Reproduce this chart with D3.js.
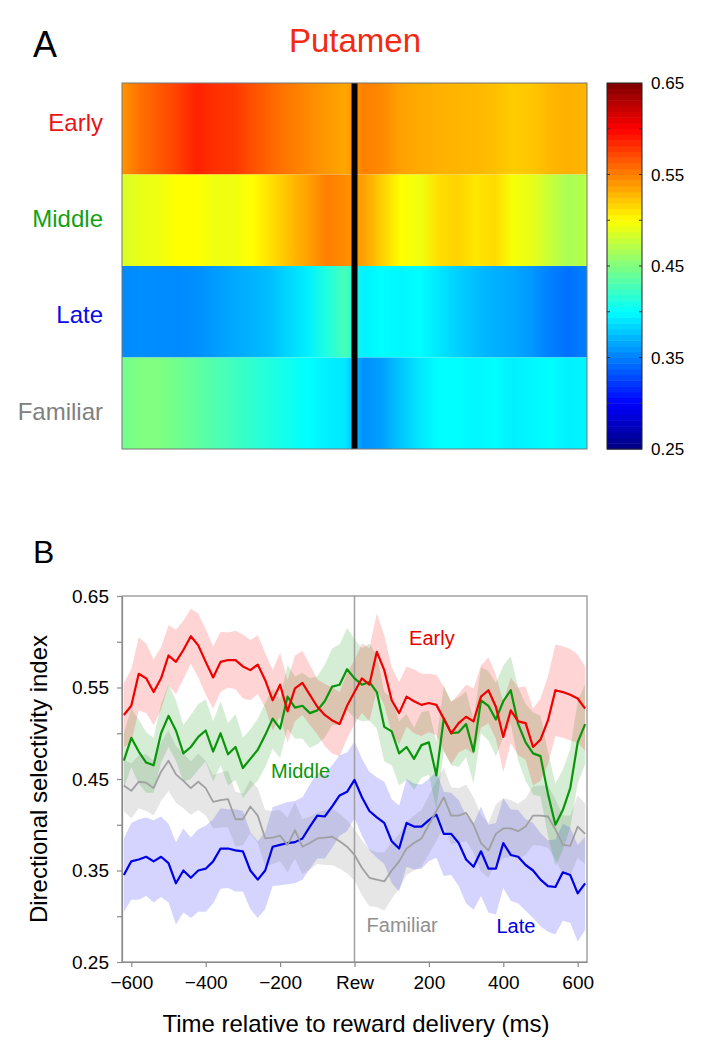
<!DOCTYPE html>
<html>
<head>
<meta charset="utf-8">
<script src="https://cdn.jsdelivr.net/npm/d3@7"></script>
<style>
  body { margin: 0; background: #fff; }
  text { font-family: "Liberation Sans", Arial, sans-serif; }
</style>
</head>
<body>
<svg id="fig" width="703" height="1056"></svg>
<script>
// ---------- data ----------
var rowNames = ["Early", "Middle", "Late", "Familiar"];
var rowColors = ["#e8141a", "#13a013", "#0a0ae6", "#808080"];

// heatmap samples (ms), both sides of reward
var heatTimes = [-625,-575,-525,-475,-425,-375,-325,-275,-225,-175,-125,-75,-25,
                 25,75,125,175,225,275,325,375,425,475,525,575,625];
var heatEarly = [.542,.556,.565,.575,.587,.581,.579,.569,.56,.552,.546,.54,.535,
                 .55,.546,.537,.533,.531,.529,.528,.525,.52,.522,.528,.531,.529];
var heatMiddle = [.485,.491,.494,.50,.50,.494,.494,.50,.512,.525,.537,.55,.546,
                  .537,.518,.50,.494,.512,.518,.509,.515,.497,.491,.478,.466,.472];
var heatLate = [.354,.356,.355,.354,.356,.361,.366,.37,.375,.385,.394,.412,.428,
                .395,.40,.397,.40,.391,.382,.375,.369,.366,.36,.35,.344,.35];
var heatFamiliar = [.444,.45,.45,.444,.438,.431,.425,.419,.412,.406,.40,.394,.391,
                    .356,.363,.378,.391,.40,.40,.397,.40,.394,.397,.40,.394,.397];

var cbLabels = [0.25, 0.35, 0.45, 0.55, 0.65];

// panel B time base (ms)
var times = [-620,-600,-580,-560,-540,-520,-500,-480,-460,-440,-420,-400,-380,-360,-340,-320,
  -300,-280,-260,-240,-220,-200,-180,-160,-140,-120,-100,-80,-60,-40,-20,0,20,40,60,80,100,
  120,140,160,180,200,220,240,260,280,300,320,340,360,380,400,420,440,460,480,500,520,540,
  560,580,600,620];

var early = [.52,.53,.565,.56,.545,.56,.585,.578,.591,.606,
  .596,.578,.561,.578,.58,.58,.573,.569,.575,.558,
  .536,.553,.524,.549,.555,.542,.529,.52,.514,.51,
  .53,.545,.56,.553,.589,.569,.536,.522,.54,.535,
  .531,.533,.531,.516,.50,.511,.518,.513,.54,.547,
  .529,.496,.525,.513,.511,.485,.493,.514,.547,.545,
  .542,.538,.527];
var middle = [.47,.495,.48,.468,.465,.50,.519,.503,.478,.485,
  .496,.503,.48,.50,.477,.485,.462,.472,.482,.498,
  .516,.505,.54,.528,.53,.522,.525,.535,.551,.553,
  .57,.56,.553,.556,.545,.507,.502,.478,.485,.472,
  .487,.49,.454,.516,.50,.501,.51,.48,.536,.53,
  .515,.535,.547,.51,.49,.478,.475,.434,.40,.416,
  .44,.49,.51];
var familiar = [.443,.437,.447,.446,.44,.458,.47,.455,.448,.44,
  .447,.44,.425,.427,.428,.406,.406,.42,.41,.385,
  .386,.388,.378,.394,.376,.38,.385,.386,.387,.382,
  .376,.367,.353,.342,.34,.338,.35,.36,.374,.38,
  .385,.40,.415,.43,.41,.41,.413,.40,.38,.372,
  .39,.396,.396,.393,.398,.41,.41,.409,.395,.378,
  .377,.398,.39];
var late = [.345,.36,.362,.365,.36,.365,.358,.336,.35,.342,
  .35,.352,.36,.374,.374,.372,.371,.35,.34,.35,
  .376,.378,.38,.381,.385,.398,.41,.409,.42,.432,
  .436,.449,.43,.415,.408,.402,.382,.374,.402,.398,
  .398,.405,.411,.39,.39,.38,.362,.354,.371,.352,
  .352,.38,.367,.365,.356,.35,.34,.333,.332,.348,
  .345,.325,.336];

// s.e.m. half widths of the shaded bands
var semEarly = [.035,.04,.04,.038,.036,.034,.033,.035,.032,.03,
  .035,.036,.034,.033,.03,.032,.035,.033,.032,.03,
  .033,.035,.034,.036,.035,.033,.03,.034,.036,.035,
  .036,.035,.038,.04,.042,.038,.036,.034,.033,.035,
  .034,.032,.033,.035,.034,.032,.035,.036,.034,.036,
  .035,.038,.036,.037,.04,.042,.045,.048,.05,.05,
  .05,.048,.046];
var semMiddle = [.03,.032,.035,.033,.03,.032,.034,.033,.031,.035,
  .036,.034,.033,.035,.034,.036,.033,.032,.034,.035,
  .033,.032,.035,.034,.036,.038,.037,.04,.042,.044,
  .045,.043,.04,.042,.04,.038,.037,.035,.036,.034,
  .036,.035,.037,.036,.035,.038,.036,.035,.036,.038,
  .04,.039,.037,.04,.042,.045,.044,.046,.045,.044,
  .043,.045,.044];
var semFamiliar = [.028,.03,.029,.031,.03,.032,.033,.031,.03,.029,
  .031,.03,.029,.03,.031,.03,.028,.029,.03,.031,
  .029,.028,.03,.031,.03,.029,.028,.03,.031,.03,
  .029,.028,.03,.031,.03,.032,.031,.03,.029,.03,
  .031,.032,.033,.032,.031,.03,.031,.03,.031,.03,
  .032,.033,.031,.03,.031,.032,.033,.034,.033,.032,
  .033,.034,.033];
var semLate = [.04,.042,.044,.043,.045,.044,.043,.045,.046,.044,
  .045,.047,.046,.044,.043,.045,.044,.042,.042,.042,
  .043,.044,.045,.045,.045,.046,.047,.046,.045,.044,
  .043,.042,.042,.043,.044,.045,.046,.047,.048,.047,
  .046,.045,.047,.046,.045,.047,.048,.047,.049,.048,
  .05,.049,.05,.051,.05,.052,.051,.05,.052,.053,
  .052,.053,.051];

var xTicks = [-600, -400, -200, 0, 200, 400, 600];
var yTicks = [0.25, 0.30, 0.35, 0.40, 0.45, 0.50, 0.55, 0.60, 0.65];
var yLabels = [0.25, 0.35, 0.45, 0.55, 0.65];

var svg = d3.select("#fig");

// jet colour map on [0.25, 0.65]
function jet(v) {
    var n = Math.max(0, Math.min(1, (v - 0.25) / 0.4));
    function c(k) { return Math.round(255 * Math.max(0, Math.min(1, 1.5 - Math.abs(4 * n - k)))); }
    return d3.rgb(c(3), c(2), c(1)).formatHex();
}

//////////////////
// Panel A
//////////////////
var hx = d3.scaleLinear().domain([-625, 625]).range([122, 587]);
var off = d3.scaleLinear().domain([-625, 625]).range([0, 1]);
var rowY = d3.scaleBand().domain(rowNames).range([83, 449]);
var heatRows = [heatEarly, heatMiddle, heatLate, heatFamiliar];

var defs = svg.append("defs");
heatRows.forEach(function(row, i) {
    var g = defs.append("linearGradient")
        .attr("id", "hg" + i)
        .attr("gradientUnits", "userSpaceOnUse")
        .attr("x1", hx(-625)).attr("x2", hx(625))
        .attr("y1", 0).attr("y2", 0);
    g.selectAll("stop").data(row).enter().append("stop")
        .attr("offset", function(d, j) { return off(heatTimes[j]); })
        .attr("stop-color", function(d) { return jet(d); });
});

svg.selectAll(".hrow").data(rowNames).enter().append("rect")
    .attr("class", "hrow")
    .attr("x", hx(-625)).attr("width", hx(625) - hx(-625))
    .attr("y", function(d) { return rowY(d); })
    .attr("height", rowY.bandwidth())
    .attr("fill", function(d, i) { return "url(#hg" + i + ")"; });

svg.append("rect")
    .attr("x", hx(0) - 3).attr("width", 6)
    .attr("y", 83).attr("height", 366)
    .attr("fill", "#000");

svg.append("rect")
    .attr("x", hx(-625)).attr("y", 83)
    .attr("width", hx(625) - hx(-625)).attr("height", 366)
    .attr("fill", "none").attr("stroke", "#777").attr("stroke-width", 1);

var rowLabelY = [131, 227, 323, 420];
svg.selectAll(".rlab").data(rowNames).enter().append("text")
    .attr("class", "rlab")
    .attr("x", 103).attr("y", function(d, i) { return rowLabelY[i]; })
    .attr("text-anchor", "end")
    .attr("font-size", 24)
    .attr("fill", function(d, i) { return rowColors[i]; })
    .text(function(d) { return d; });

svg.append("text").attr("x", 33).attr("y", 57)
    .attr("font-size", 36).text("A");
svg.append("text").attr("x", 355).attr("y", 52)
    .attr("text-anchor", "middle").attr("font-size", 33)
    .attr("fill", "#f22a12").text("Putamen");

// colour bar
var cy = d3.scaleLinear().domain([0.25, 0.65]).range([449, 83]);
var nLev = 64;
var levels = d3.range(nLev).map(function(i) { return 0.25 + 0.4 * i / nLev; });
svg.selectAll(".cb").data(levels).enter().append("rect")
    .attr("class", "cb")
    .attr("x", 607).attr("width", 35)
    .attr("y", function(d) { return cy(d + 0.4 / nLev); })
    .attr("height", cy(0.25) - cy(0.25 + 0.4 / nLev) + 0.5)
    .attr("fill", function(d) { return jet(d + 0.2 / nLev); });
svg.append("rect").attr("x", 607).attr("y", 83).attr("width", 35).attr("height", 366)
    .attr("fill", "none").attr("stroke", "#222").attr("stroke-width", 1);
svg.selectAll(".cbt").data(yTicks.slice(1, -1)).enter().append("path")
    .attr("class", "cbt")
    .attr("d", function(d) { return "M607," + cy(d) + "h3M642," + cy(d) + "h-3"; })
    .attr("stroke", "#333");
svg.selectAll(".cbl").data(cbLabels).enter().append("text")
    .attr("class", "cbl")
    .attr("x", 651).attr("y", function(d) { return cy(d) + 6; })
    .attr("font-size", 17)
    .text(function(d) { return d3.format(".2f")(d); });

//////////////////
// Panel B
//////////////////
var x = d3.scaleLinear().domain([-625, 625]).range([122, 587]);
var y = d3.scaleLinear().domain([0.25, 0.65]).range([962, 596]);

var series = [
    { name: "Late", vals: late, sem: semLate, color: "#0000e6", band: "#0000ff", op: 0.17 },
    { name: "Familiar", vals: familiar, sem: semFamiliar, color: "#a0a0a0", band: "#808080", op: 0.2 },
    { name: "Middle", vals: middle, sem: semMiddle, color: "#0a960a", band: "#009600", op: 0.17 },
    { name: "Early", vals: early, sem: semEarly, color: "#f00000", band: "#ff0000", op: 0.17 }
];

var plot = svg.append("g");
plot.append("clipPath").attr("id", "pc").append("rect")
    .attr("x", 122).attr("y", 596).attr("width", 465).attr("height", 366);
var inner = plot.append("g").attr("clip-path", "url(#pc)");

series.forEach(function(s) {
    var area = d3.area()
        .x(function(d, i) { return x(times[i]); })
        .y0(function(d, i) { return y(d - s.sem[i]); })
        .y1(function(d, i) { return y(d + s.sem[i]); });
    inner.append("path").datum(s.vals)
        .attr("d", area)
        .attr("fill", s.band).attr("fill-opacity", s.op);
});

inner.append("line")
    .attr("x1", x(0)).attr("x2", x(0)).attr("y1", 596).attr("y2", 962)
    .attr("stroke", "#a0a0a0").attr("stroke-width", 1.5);

series.forEach(function(s) {
    var line = d3.line()
        .x(function(d, i) { return x(times[i]); })
        .y(function(d) { return y(d); });
    inner.append("path").datum(s.vals)
        .attr("d", line)
        .attr("fill", "none")
        .attr("stroke", s.color)
        .attr("stroke-width", s.name === "Familiar" ? 1.8 : 2.2)
        .attr("stroke-linejoin", "round");
});

plot.append("rect").attr("x", 122).attr("y", 596).attr("width", 465).attr("height", 366)
    .attr("fill", "none").attr("stroke", "#8a8a8a").attr("stroke-width", 1.2);

var xAxis = plot.append("g").attr("transform", "translate(0,962)")
    .call(d3.axisBottom(x).tickValues(xTicks).tickSize(5).tickSizeOuter(0).tickPadding(9)
        .tickFormat(function(d) { return d === 0 ? "Rew" : d3.format("")(d); }));
var yAxis = plot.append("g").attr("transform", "translate(122,0)")
    .call(d3.axisLeft(y).tickValues(yTicks).tickSize(5).tickSizeOuter(0).tickPadding(8)
        .tickFormat(function(d) {
            return yLabels.some(function(l) { return Math.abs(l - d) < 1e-6; }) ? d3.format(".2f")(d) : "";
        }));
[xAxis, yAxis].forEach(function(a) {
    a.select(".domain").attr("stroke", "#8a8a8a").attr("stroke-width", 1.2);
    a.selectAll(".tick line").attr("stroke", "#8a8a8a").attr("stroke-width", 1.2);
    a.selectAll(".tick text").attr("font-size", 19).attr("fill", "#000")
        .attr("font-family", "Liberation Sans, Arial, sans-serif");
});

svg.append("text").attr("x", 33).attr("y", 563).attr("font-size", 32).text("B");
svg.append("text").attr("transform", "translate(47,779) rotate(-90)")
    .attr("text-anchor", "middle").attr("font-size", 24)
    .text("Directional selectivity index");
svg.append("text").attr("x", 356).attr("y", 1032)
    .attr("text-anchor", "middle").attr("font-size", 24)
    .text("Time relative to reward delivery (ms)");

var lineLabels = [
    { text: "Early", t: 208, v: 0.6, color: "#e80000" },
    { text: "Middle", t: -145, v: 0.46, color: "#0a960a" },
    { text: "Familiar", t: 128, v: 0.28, color: "#909090" },
    { text: "Late", t: 434, v: 0.28, color: "#0000e0" }
];
var labelBase = [645, 778, 932, 933];
svg.selectAll(".llab").data(lineLabels).enter().append("text")
    .attr("class", "llab")
    .attr("x", function(d) { return x(d.t); })
    .attr("y", function(d, i) { return labelBase[i]; })
    .attr("text-anchor", "middle").attr("font-size", 20)
    .attr("fill", function(d) { return d.color; })
    .text(function(d) { return d.text; });
</script>
</body>
</html>
